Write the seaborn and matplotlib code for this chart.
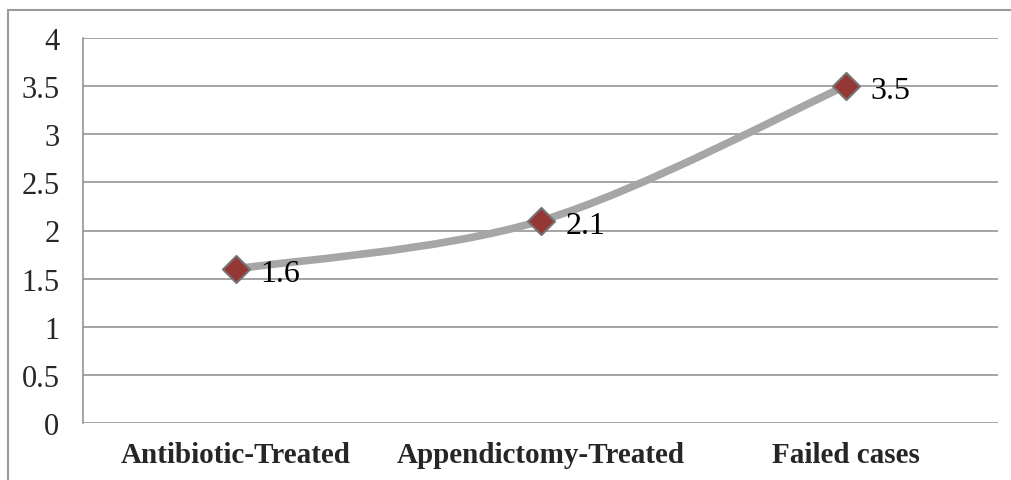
import numpy as np
import pandas as pd
import matplotlib
matplotlib.use('Agg')
import matplotlib.pyplot as plt
from matplotlib.path import Path
from matplotlib.patches import PathPatch, Rectangle
import seaborn as sns

# Data
categories = ['Antibiotic-Treated', 'Appendictomy-Treated', 'Failed cases']
values = [1.6, 2.1, 3.5]
y_ticks = [0, 0.5, 1, 1.5, 2, 2.5, 3, 3.5, 4]
y_labels = ['0', '0.5', '1', '1.5', '2', '2.5', '3', '3.5', '4']

df = pd.DataFrame({'pos': np.arange(len(categories)), 'value': values})

sns.set_style('white')
plt.rcParams['font.family'] = ['Liberation Serif', 'DejaVu Serif']

W, H = 1011, 481
fig = plt.figure(figsize=(W / 100, H / 100), dpi=100)
ax = fig.add_axes([83 / W, (H - 424) / H, (998 - 83) / W, (424 - 39) / H])

grid_c = '#8c8c8c'
line_c = '#a6a6a6'

# horizontal gridlines
for t in y_ticks:
    ax.axhline(t, color=grid_c, lw=1.1, zorder=0)

# smoothed line (Excel-style bezier through the points)
pts = df[['pos', 'value']].to_numpy(dtype=float)
ext = np.vstack([pts[0], pts, pts[-1]])
verts = [tuple(pts[0])]
codes = [Path.MOVETO]
for i in range(len(pts) - 1):
    p0, p1, p2, p3 = ext[i], ext[i + 1], ext[i + 2], ext[i + 3]
    c1 = p1 + (p2 - p0) / 6
    c2 = p2 - (p3 - p1) / 6
    verts += [tuple(c1), tuple(c2), tuple(p2)]
    codes += [Path.CURVE4] * 3
ax.add_patch(PathPatch(Path(verts, codes), fill=False, ec=line_c, lw=5.5,
                       capstyle='round', joinstyle='round', zorder=2))

# markers
sns.scatterplot(data=df, x='pos', y='value', marker='D', s=190, color='#953735',
                edgecolor='#747474', linewidth=1.5, zorder=3, ax=ax, legend=False)

for x, v in zip(df['pos'], values):
    ax.annotate(f'{v}', (x, v), xytext=(18, -3), textcoords='offset points',
                ha='left', va='center', fontsize=23, color='black')

ax.set_xlim(-0.5, len(categories) - 0.5)
ax.set_ylim(0, 4)
ax.set_yticks(y_ticks)
ax.set_yticklabels(y_labels, fontsize=22)
ax.set_xticks(np.arange(len(categories) + 1) - 0.5)
ax.set_xticklabels([])
ax.set_xticks(np.arange(len(categories)), minor=True)
ax.set_xticklabels(categories, minor=True, fontsize=21, fontweight='bold')
ax.tick_params(axis='x', which='major', length=6, width=1.1, color=grid_c, direction='out')
ax.tick_params(axis='x', which='minor', length=0, pad=13)
ax.tick_params(axis='y', length=6, width=1.1, color=grid_c, direction='out', pad=11)
ax.set_xlabel('')
ax.set_ylabel('')

for s in ['top', 'right', 'bottom']:
    ax.spines[s].set_visible(False)
ax.spines['left'].set_color(grid_c)
ax.spines['left'].set_linewidth(1.1)

# outer chart frame (cut at right and bottom)
fig.patches.append(Rectangle((8 / W, -0.1), 1.2, 1.1 - 11 / H, transform=fig.transFigure,
                             fill=False, ec='#9a9a9a', lw=1.5, zorder=0))

fig.savefig('out.png', dpi=100)
